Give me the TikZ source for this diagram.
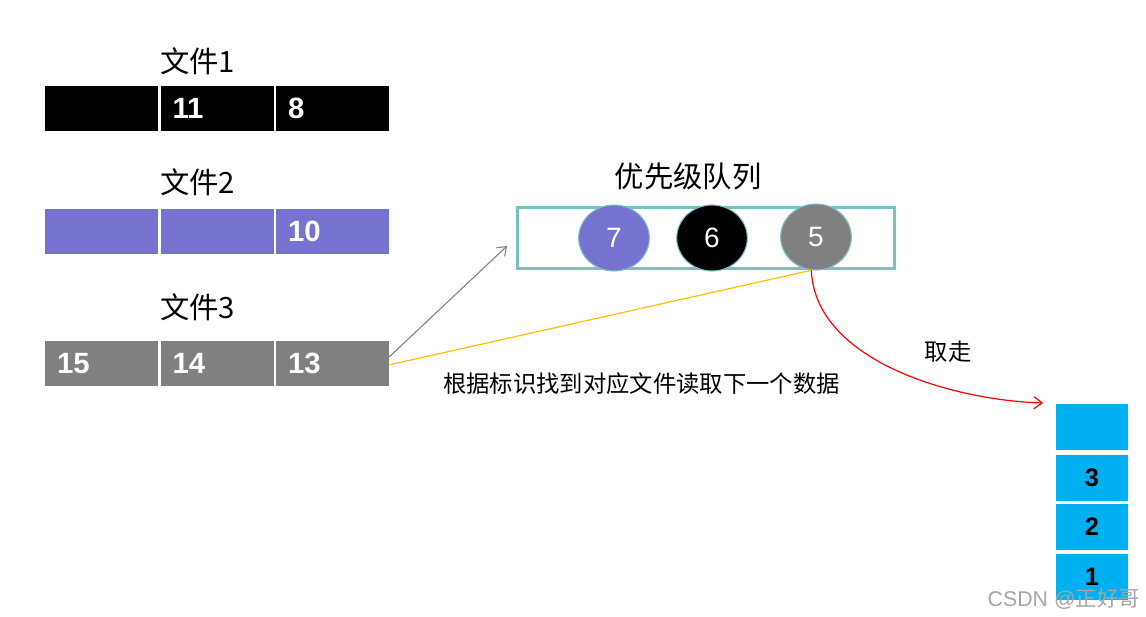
\documentclass[tikz,border=0pt]{standalone}
\usepackage{fontspec}
\setmainfont{Liberation Sans}
\newfontfamily\cjk{Noto Sans CJK SC}
\usetikzlibrary{arrows.meta,positioning,shapes.geometric}

\definecolor{filepurple}{RGB}{117,115,207}
\definecolor{filegray}{RGB}{128,128,128}
\definecolor{queueteal}{RGB}{122,192,197}
\definecolor{stackblue}{RGB}{0,176,240}
\definecolor{pickyellow}{RGB}{255,192,0}

\tikzset{
  cell/.style={minimum height=33.75pt,text width=66.75pt,inner xsep=9pt,
    inner ysep=0pt,align=left,text=white,font=\fontsize{22}{24}\selectfont\bfseries},
  flabel/.style={inner sep=0pt,font=\cjk\fontsize{22}{24}\selectfont},
  note/.style={inner sep=0pt,font=\cjk\fontsize{17.5}{20}\selectfont},
  ball/.style={ellipse,draw=queueteal,line width=0.8pt,minimum width=53pt,
    minimum height=49.5pt,inner sep=0pt,text=white,font=\fontsize{21}{24}\selectfont},
  slot/.style={fill=stackblue,minimum width=54pt,minimum height=34.5pt,inner sep=0pt,
    font=\fontsize{19}{22}\selectfont\bfseries},
}

\begin{document}
\begin{tikzpicture}[x=0.75pt,y=0.75pt,>={Straight Barb[length=6pt,width=9pt]}]
  \useasboundingbox (0,0) rectangle (1146,-617);

  % ---- the three sorted input files ------------------------------------
  \node[cell,fill=black] (f1a) at (101.5,-108.5) {};
  \node[cell,fill=black,right=1.5pt of f1a] (f1b) {11};
  \node[cell,fill=black,right=1.5pt of f1b] (f1c) {8};
  \node[flabel,anchor=base west] (l1) at (160,-73) {文件1};

  \node[cell,fill=filepurple] (f2a) at (101.5,-231) {};
  \node[cell,fill=filepurple,right=1.5pt of f2a] (f2b) {};
  \node[cell,fill=filepurple,right=1.5pt of f2b] (f2c) {10};
  \node[flabel,anchor=base west] (l2) at (160,-193) {文件2};

  \node[cell,fill=filegray] (f3a) at (101.5,-363.5) {15};
  \node[cell,fill=filegray,right=1.5pt of f3a] (f3b) {14};
  \node[cell,fill=filegray,right=1.5pt of f3b] (f3c) {13};
  \node[flabel,anchor=base west] (l3) at (160,-318) {文件3};

  % ---- priority queue ----------------------------------------------------
  \node[draw=queueteal,line width=2.25pt,minimum width=283pt,minimum height=46pt,
        inner sep=0pt] (queue) at (706,-238) {};
  \node[flabel,anchor=base] (qtitle) at (688,-187) {优先级队列};
  \node[ball,fill=filepurple] (c7) at (614,-238) {7};
  \node[ball,fill=black] (c6) at (712,-238) {6};
  \node[ball,fill=filegray] (c5) at (816,-237) {5};

  % ---- output stack --------------------------------------------------------
  \node[slot] (s0) at (1092,-426.5) {};
  \node[slot] (s3) at (1092,-478) {3};
  \node[slot] (s2) at (1092,-527) {2};
  \node[slot] (s1) at (1092,-577) {1};

  % ---- connectors ----------------------------------------------------------
  \coordinate (qin) at (507,-246);
  \coordinate (take) at (1043,-403);
  \draw[->,filegray,line width=0.8pt] ([yshift=5pt]f3c.east) -- (qin);
  \draw[pickyellow,line width=0.9pt] ([yshift=-1pt]f3c.east) -- (c5.-98);
  \draw[->,red,line width=0.9pt] (c5.-98)
        .. controls (815,-360) and (950,-400) .. (take);

  \node[note,anchor=base west] (refill) at (443,-392) {根据标识找到对应文件读取下一个数据};
  \node[note,anchor=base] (takeout) at (948,-360) {取走};

  \node[inner sep=0pt,anchor=base east,text=black!35,font=\fontsize{16}{18}\selectfont]
        (mark) at (1140,-606) {CSDN @{\cjk 正好哥}};

\end{tikzpicture}
\end{document}
